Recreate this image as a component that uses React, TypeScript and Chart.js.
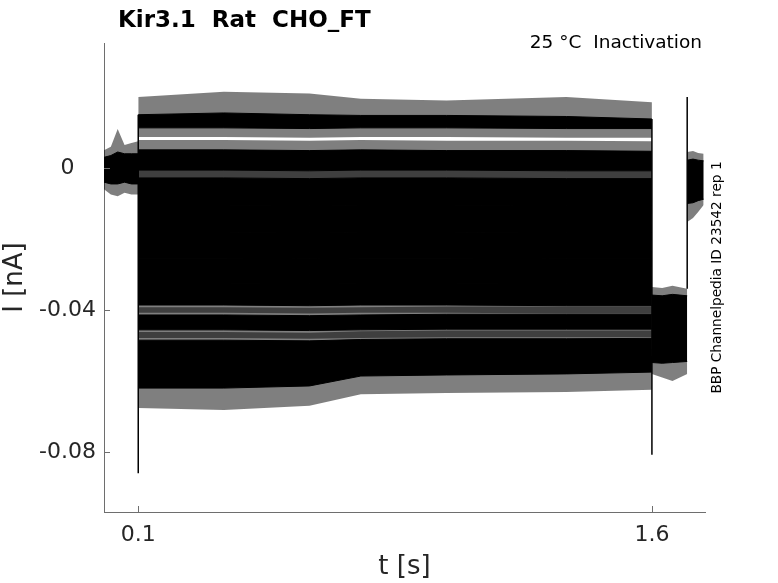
import { useEffect, useRef } from 'react'
import { Chart, registerables } from 'chart.js'
import type { ChartConfiguration, Plugin } from 'chart.js'

Chart.register(...registerables)

const xTicks = [0.1, 1.6]
const xTickLabels = ['0.1', '1.6']
const yTicks = [0, -0.04, -0.08]
const yTickLabels = ['0', '-0.04', '-0.08']

const titleText = 'Kir3.1  Rat  CHO_FT'
const conditionText = '25 °C  Inactivation'
const sourceText = 'BBP Channelpedia ID 23542 rep 1'

// holding level before the step (nA)
const preT = [0, 0.02, 0.04, 0.06, 0.08, 0.1]
const preNoiseHigh = [0.005, 0.006, 0.011, 0.0065, 0.007, 0.0075]
const preCoreHigh = [0.003, 0.0035, 0.0045, 0.004, 0.004, 0.004]
const preCoreLow = [-0.004, -0.0045, -0.0045, -0.004, -0.0045, -0.0045]
const preNoiseLow = [-0.006, -0.0075, -0.008, -0.007, -0.0075, -0.0075]

// test pulse, one row per sweep
const pulseT = [0.1, 0.35, 0.6, 0.75, 1.0, 1.35, 1.6]
const pulseNoiseHigh = [
  [0.0200, 0.0215, 0.0210, 0.0195, 0.0190, 0.0200, 0.0185],
  [0.0079, 0.0079, 0.0077, 0.0079, 0.0077, 0.0077, 0.0075],
  [-0.0006, -0.0006, -0.0008, -0.0006, -0.0006, -0.0008, -0.0008],
  [-0.0082, -0.0082, -0.0084, -0.0082, -0.0082, -0.0084, -0.0084],
  [-0.0158, -0.0158, -0.0160, -0.0158, -0.0158, -0.0160, -0.0160],
  [-0.0232, -0.0232, -0.0234, -0.0232, -0.0232, -0.0234, -0.0234],
  [-0.0302, -0.0302, -0.0304, -0.0302, -0.0302, -0.0304, -0.0304],
  [-0.0392, -0.0392, -0.0394, -0.0392, -0.0390, -0.0390, -0.0390],
  [-0.0462, -0.0462, -0.0464, -0.0460, -0.0458, -0.0458, -0.0458],
  [-0.0524, -0.0524, -0.0524, -0.0515, -0.0512, -0.0512, -0.0510],
]
const pulseCoreHigh = [
  [0.0150, 0.0155, 0.0150, 0.0148, 0.0148, 0.0145, 0.0138],
  [0.0051, 0.0051, 0.0049, 0.0051, 0.0049, 0.0049, 0.0047],
  [-0.0028, -0.0028, -0.0030, -0.0028, -0.0028, -0.0030, -0.0030],
  [-0.0104, -0.0104, -0.0106, -0.0104, -0.0104, -0.0106, -0.0106],
  [-0.0180, -0.0180, -0.0182, -0.0180, -0.0180, -0.0182, -0.0182],
  [-0.0254, -0.0254, -0.0256, -0.0254, -0.0254, -0.0256, -0.0256],
  [-0.0324, -0.0324, -0.0326, -0.0324, -0.0324, -0.0326, -0.0326],
  [-0.0414, -0.0414, -0.0416, -0.0414, -0.0412, -0.0412, -0.0412],
  [-0.0485, -0.0485, -0.0487, -0.0483, -0.0481, -0.0481, -0.0480],
  [-0.0547, -0.0547, -0.0547, -0.0538, -0.0535, -0.0535, -0.0532],
]
const pulseCoreLow = [
  [0.0113, 0.0113, 0.0111, 0.0113, 0.0113, 0.0111, 0.0111],
  [-0.0006, -0.0006, -0.0008, -0.0006, -0.0006, -0.0008, -0.0008],
  [-0.0104, -0.0104, -0.0106, -0.0104, -0.0104, -0.0106, -0.0106],
  [-0.0180, -0.0180, -0.0182, -0.0180, -0.0180, -0.0182, -0.0182],
  [-0.0254, -0.0254, -0.0256, -0.0254, -0.0254, -0.0256, -0.0256],
  [-0.0324, -0.0324, -0.0326, -0.0324, -0.0324, -0.0326, -0.0326],
  [-0.0386, -0.0386, -0.0388, -0.0386, -0.0386, -0.0388, -0.0388],
  [-0.0456, -0.0456, -0.0458, -0.0456, -0.0454, -0.0454, -0.0454],
  [-0.0555, -0.0555, -0.0555, -0.0552, -0.0550, -0.0550, -0.0548],
  [-0.0620, -0.0620, -0.0614, -0.0586, -0.0583, -0.0580, -0.0575],
]
const pulseNoiseLow = [
  [0.0087, 0.0087, 0.0085, 0.0087, 0.0087, 0.0085, 0.0085],
  [-0.0028, -0.0028, -0.0030, -0.0028, -0.0028, -0.0030, -0.0030],
  [-0.0127, -0.0127, -0.0129, -0.0127, -0.0127, -0.0129, -0.0129],
  [-0.0203, -0.0203, -0.0205, -0.0203, -0.0203, -0.0205, -0.0205],
  [-0.0276, -0.0276, -0.0278, -0.0276, -0.0276, -0.0278, -0.0278],
  [-0.0346, -0.0346, -0.0348, -0.0346, -0.0346, -0.0348, -0.0348],
  [-0.0408, -0.0408, -0.0410, -0.0408, -0.0408, -0.0410, -0.0410],
  [-0.0479, -0.0479, -0.0481, -0.0479, -0.0477, -0.0477, -0.0477],
  [-0.0578, -0.0578, -0.0578, -0.0575, -0.0573, -0.0573, -0.0571],
  [-0.0676, -0.0682, -0.0670, -0.0637, -0.0634, -0.0631, -0.0625],
]

// after the pulse
const postT = [1.6, 1.63, 1.66, 1.703]
const postNoiseHigh = [-0.0335, -0.0338, -0.0332, -0.0340]
const postCoreHigh = [-0.0358, -0.0360, -0.0356, -0.0360]
const postCoreLow = [-0.0548, -0.0550, -0.0548, -0.0545]
const postNoiseLow = [-0.0580, -0.0590, -0.0600, -0.0580]

// back to holding
const tailT = [1.703, 1.72, 1.735, 1.751]
const tailNoiseHigh = [0.0045, 0.0048, 0.0042, 0.0040]
const tailCoreHigh = [0.0022, 0.0025, 0.0022, 0.0020]
const tailCoreLow = [-0.0100, -0.0098, -0.0092, -0.0088]
const tailNoiseLow = [-0.0152, -0.0141, -0.0124, -0.0104]

// capacitive transients
const spikeT = [0.1, 1.6, 1.703]
const spikeHigh = [0.0150, 0.0138, 0.0200]
const spikeLow = [-0.0860, -0.0808, -0.0340]

const axisColor = '#6e6e6e'
const labelColor = '#262626'
const haze = 'rgba(0,0,0,0.5)'

function pts(t: number[], v: number[]) {
  return t.map((x, i) => ({ x, y: v[i] }))
}

function band(t: number[], high: number[], low: number[], solid: boolean) {
  const color = solid ? '#000000' : haze
  const width = solid ? 1 : 0
  return [
    { data: pts(t, high), fill: '+1', backgroundColor: color, borderColor: color, borderWidth: width, order: solid ? 1 : 2 },
    { data: pts(t, low), fill: false, backgroundColor: color, borderColor: color, borderWidth: width, order: solid ? 1 : 2 },
  ]
}

const decorations: Plugin = {
  id: 'decorations',
  afterDraw(chart) {
    const { ctx, chartArea, scales } = chart
    ctx.save()
    ctx.strokeStyle = axisColor
    ctx.lineWidth = 1
    ctx.beginPath()
    xTicks.forEach(v => {
      const px = Math.round(scales.x.getPixelForValue(v)) + 0.5
      ctx.moveTo(px, chartArea.bottom)
      ctx.lineTo(px, chartArea.bottom - 6)
    })
    yTicks.forEach(v => {
      const py = Math.round(scales.y.getPixelForValue(v)) + 0.5
      ctx.moveTo(chartArea.left, py)
      ctx.lineTo(chartArea.left + 6, py)
    })
    ctx.stroke()

    ctx.fillStyle = '#000000'
    ctx.textBaseline = 'alphabetic'
    ctx.textAlign = 'left'
    ctx.font = 'bold 23px "DejaVu Sans"'
    ctx.fillText(titleText, chartArea.left + 14, 27)

    ctx.textAlign = 'right'
    ctx.font = '18.5px "DejaVu Sans"'
    ctx.fillText(conditionText, chartArea.right - 3, 48)

    ctx.translate(chartArea.right + 12, (chartArea.top + chartArea.bottom) / 2)
    ctx.rotate(-Math.PI / 2)
    ctx.textAlign = 'center'
    ctx.textBaseline = 'middle'
    ctx.font = '13.7px "DejaVu Sans"'
    ctx.fillText(sourceText, 0, 0)
    ctx.restore()
  },
}

export default function App() {
  const canvasRef = useRef<HTMLCanvasElement>(null)

  useEffect(() => {
    if (!canvasRef.current) return

    const datasets: any[] = []
    datasets.push(...band(preT, preNoiseHigh, preNoiseLow, false))
    datasets.push(...band(preT, preCoreHigh, preCoreLow, true))
    pulseCoreHigh.forEach((_, i) => {
      datasets.push(...band(pulseT, pulseNoiseHigh[i], pulseNoiseLow[i], false))
      datasets.push(...band(pulseT, pulseCoreHigh[i], pulseCoreLow[i], true))
    })
    datasets.push(...band(postT, postNoiseHigh, postNoiseLow, false))
    datasets.push(...band(postT, postCoreHigh, postCoreLow, true))
    datasets.push(...band(tailT, tailNoiseHigh, tailNoiseLow, false))
    datasets.push(...band(tailT, tailCoreHigh, tailCoreLow, true))
    spikeT.forEach((t, i) => {
      datasets.push({
        data: [{ x: t, y: spikeHigh[i] }, { x: t, y: spikeLow[i] }],
        fill: false,
        borderColor: '#000000',
        borderWidth: 1.5,
        order: 0,
      })
    })

    const config: ChartConfiguration = {
      type: 'line',
      data: { datasets },
      options: {
        animation: false,
        responsive: true,
        maintainAspectRatio: false,
        layout: { padding: { left: 0, top: 43, right: 73, bottom: 0 } },
        elements: { point: { radius: 0 }, line: { tension: 0 } },
        plugins: {
          legend: { display: false },
          tooltip: { enabled: false },
          title: { display: false },
        },
        scales: {
          x: {
            type: 'linear',
            min: 0,
            max: 1.755,
            grid: { display: false, drawTicks: false },
            border: { display: true, color: axisColor, width: 1 },
            afterFit: (s: any) => { s.height = 71 },
            afterBuildTicks: (s: any) => { s.ticks = xTicks.map(value => ({ value })) },
            ticks: {
              autoSkip: false,
              maxRotation: 0,
              padding: 10,
              color: labelColor,
              font: { family: 'DejaVu Sans', size: 22 },
              callback: (v: any) => xTickLabels[xTicks.indexOf(Number(v))] ?? '',
            },
            title: {
              display: true,
              text: 't [s]',
              color: labelColor,
              padding: 0,
              font: { family: 'DejaVu Sans', size: 26 },
            },
          },
          y: {
            type: 'linear',
            min: -0.0969,
            max: 0.0352,
            grid: { display: false, drawTicks: false },
            border: { display: true, color: axisColor, width: 1 },
            afterFit: (s: any) => { s.width = 104 },
            afterBuildTicks: (s: any) => { s.ticks = yTicks.map(value => ({ value })) },
            ticks: {
              autoSkip: false,
              padding: 8,
              crossAlign: 'center',
              color: labelColor,
              font: { family: 'DejaVu Sans', size: 22 },
              callback: (v: any) => yTickLabels[yTicks.indexOf(Number(v))] ?? '',
            },
            title: {
              display: true,
              text: 'I [nA]',
              color: labelColor,
              padding: 0,
              font: { family: 'DejaVu Sans', size: 26 },
            },
          },
        },
      },
      plugins: [decorations],
    }

    const chart = new Chart(canvasRef.current, config)
    return () => chart.destroy()
  }, [])

  return (
    <div style={{ position: 'fixed', left: 0, top: 0, width: 778, height: 583, background: '#fff' }}>
      <canvas ref={canvasRef} />
    </div>
  )
}
